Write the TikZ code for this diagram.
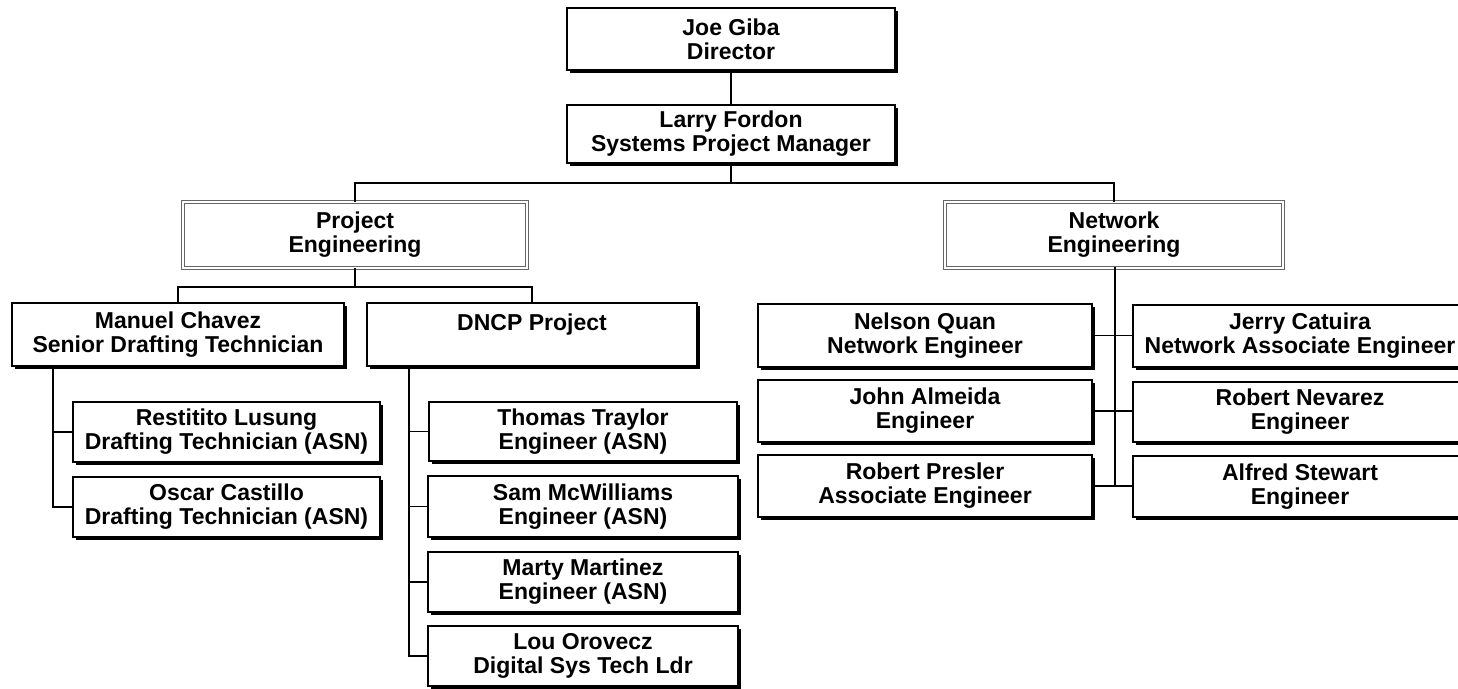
\documentclass[tikz,border=0pt]{standalone}
\usepackage{fontspec}
\setmainfont{Liberation Sans}
\usetikzlibrary{shadows}
\begin{document}
\begin{tikzpicture}[x=1pt,y=-1pt,
  pbox/.style={draw=black, line width=1.9pt, fill=white, inner sep=0pt, align=center,
    font=\bfseries\fontsize{23}{24}\selectfont,
    drop shadow={shadow xshift=2.6pt, shadow yshift=-2.6pt, fill=black, opacity=1}},
  gbox/.style={draw=black!60, line width=1.4pt, double=white, double distance=2pt,
    fill=white, inner sep=0pt, align=center, font=\bfseries\fontsize{23}{24}\selectfont},
  conn/.style={line width=1.9pt, line cap=rect}]
\useasboundingbox (0,0) rectangle (1458,688);
\newcommand{\bx}[7]{\node[#1, minimum width=#4pt, minimum height=#5pt] (#2) at (#3) {#6\\#7};}
% top
\bx{pbox}{joe}{731,39}{328}{62}{Joe Giba}{Director}
\bx{pbox}{larry}{731,134}{328}{58}{Larry Fordon}{Systems Project Manager}
% groups
\bx{gbox}{proj}{355,235}{344}{66}{Project}{Engineering}
\bx{gbox}{net}{1114,235}{338}{66}{Network}{Engineering}
% project engineering
\bx{pbox}{manuel}{178,334.5}{332}{63}{Manuel Chavez}{Senior Drafting Technician}
\bx{pbox}{dncp}{532,334.5}{330}{63}{DNCP Project}{\phantom{X}}
\bx{pbox}{rest}{226.5,432}{307}{60}{Restitito Lusung}{Drafting Technician (ASN)}
\bx{pbox}{oscar}{226.5,507}{307}{60}{Oscar Castillo}{Drafting Technician (ASN)}
\bx{pbox}{thomas}{583,431.5}{308}{59}{Thomas Traylor}{Engineer (ASN)}
\bx{pbox}{sam}{583,506.5}{310}{61}{Sam McWilliams}{Engineer (ASN)}
\bx{pbox}{marty}{583,582}{310}{60}{Marty Martinez}{Engineer (ASN)}
\bx{pbox}{lou}{583,656}{310}{60}{Lou Orovecz}{Digital Sys Tech Ldr}
% network engineering
\bx{pbox}{nelson}{925,335.5}{334}{63}{Nelson Quan}{Network Engineer}
\bx{pbox}{john}{925,411}{334}{62}{John Almeida}{Engineer}
\bx{pbox}{presler}{925,486}{334}{62}{Robert Presler}{Associate Engineer}
\bx{pbox}{jerry}{1300,336}{334}{62}{Jerry Catuira}{Network Associate Engineer}
\bx{pbox}{nevarez}{1300,412}{334}{60}{Robert Nevarez}{Engineer}
\bx{pbox}{alfred}{1300,486.5}{334}{61}{Alfred Stewart}{Engineer}
% bus coordinates
\coordinate (topbus) at (731,183);
\coordinate (pbus) at (355,287);
\coordinate (mbus) at (53,366);
\coordinate (dbus) at (409,366);
\coordinate (nbus) at (1115,268);
% connectors
\draw[conn] (joe.south) -- (larry.south |- larry.north);
\draw[conn] (larry.south) -- (topbus);
\draw[conn] (topbus) -| (proj.north);
\draw[conn] (topbus) -| (net.north);
\draw[conn] (proj.south) -- (pbus);
\draw[conn] (pbus) -| (manuel.north);
\draw[conn] (pbus) -| (dncp.north);
\draw[conn] (mbus) |- (oscar.west);
\draw[conn] (mbus |- rest.west) -- (rest.west);
\draw[conn] (dbus) |- (lou.west);
\draw[conn] (dbus |- thomas.west) -- (thomas.west);
\draw[conn] (dbus |- sam.west) -- (sam.west);
\draw[conn] (dbus |- marty.west) -- (marty.west);
\draw[conn] (nbus) -- (nbus |- presler.east);
\draw[conn] (nelson.east) -- (nelson.east -| jerry.west);
\draw[conn] (john.east) -- (john.east -| nevarez.west);
\draw[conn] (presler.east) -- (presler.east -| alfred.west);
\end{tikzpicture}
\end{document}
